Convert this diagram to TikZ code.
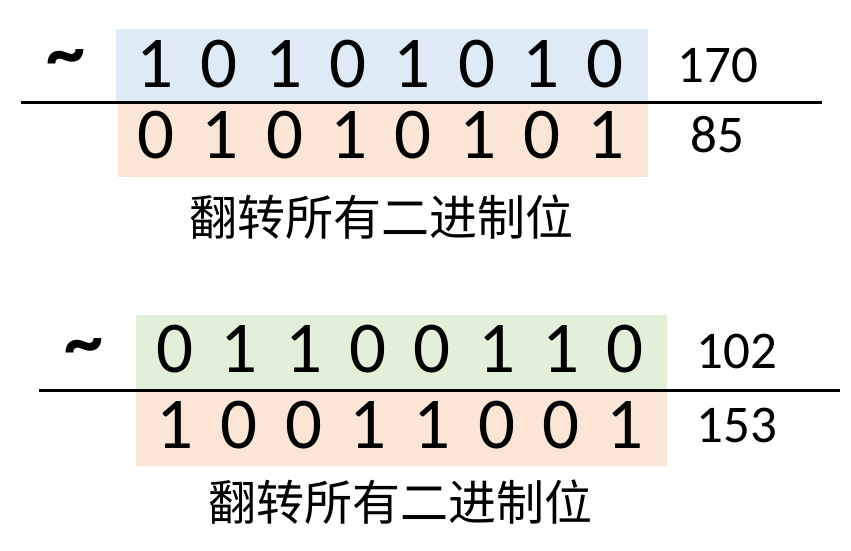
\documentclass[tikz,border=0pt]{standalone}
\usepackage{fontspec}
\setmainfont{Carlito}
\newfontfamily\cjk{Noto Sans CJK SC}
\definecolor{bblue}{HTML}{DEEBF7}
\definecolor{borange}{HTML}{FBE5D6}
\definecolor{bgreen}{HTML}{E2F0D9}
\tikzset{
  bigdigit/.style={inner sep=0pt, anchor=base, font=\fontsize{73}{80}\selectfont},
  decnum/.style={inner sep=0pt, anchor=base, font=\fontsize{53}{60}\selectfont},
  tildesign/.style={inner sep=0pt, anchor=center, font=\bfseries\fontsize{78}{80}\selectfont},
  caption/.style={inner sep=0pt, anchor=center, font=\cjk\fontsize{48}{52}\selectfont},
  rule/.style={line width=3pt, black}
}
\begin{document}
\begin{tikzpicture}[x=1pt,y=-1pt]
\useasboundingbox (0,0) rectangle (851,550);
% ---- block 1 ----
\fill[bblue] (116,29) rectangle (648,102);
\fill[borange] (118,102) rectangle (648,177);
\coordinate (l1a) at (21,102);
\coordinate (l1b) at (822,102);
\draw[rule] (l1a) -- (l1b);
\node[tildesign] (t1) at (66,64) {\char`\~};
\foreach \d [count=\i from 0] in {1,0,1,0,1,0,1,0}
  \node[bigdigit] (a\i) at (155+64.3*\i,87) {\d};
\foreach \d [count=\i from 0] in {0,1,0,1,0,1,0,1}
  \node[bigdigit] (b\i) at (156+64.3*\i,158) {\d};
\node[decnum] (n170) at (718,82) {170};
\node[decnum] (n85) at (717,152) {85};
\node[caption] (c1) at (381,217) {翻转所有二进制位};
% ---- block 2 ----
\fill[bgreen] (136,315) rectangle (667,389);
\fill[borange] (136,390) rectangle (667,466);
\coordinate (l2a) at (39,390);
\coordinate (l2b) at (840,390);
\draw[rule] (l2a) -- (l2b);
\node[tildesign] (t2) at (84,353) {\char`\~};
\foreach \d [count=\i from 0] in {0,1,1,0,0,1,1,0}
  \node[bigdigit] (c\i) at (175+64.3*\i,372) {\d};
\foreach \d [count=\i from 0] in {1,0,0,1,1,0,0,1}
  \node[bigdigit] (d\i) at (175+64.3*\i,448) {\d};
\node[decnum] (n102) at (737,368) {102};
\node[decnum] (n153) at (737,442) {153};
\node[caption] (c2) at (400,502) {翻转所有二进制位};
\end{tikzpicture}
\end{document}
